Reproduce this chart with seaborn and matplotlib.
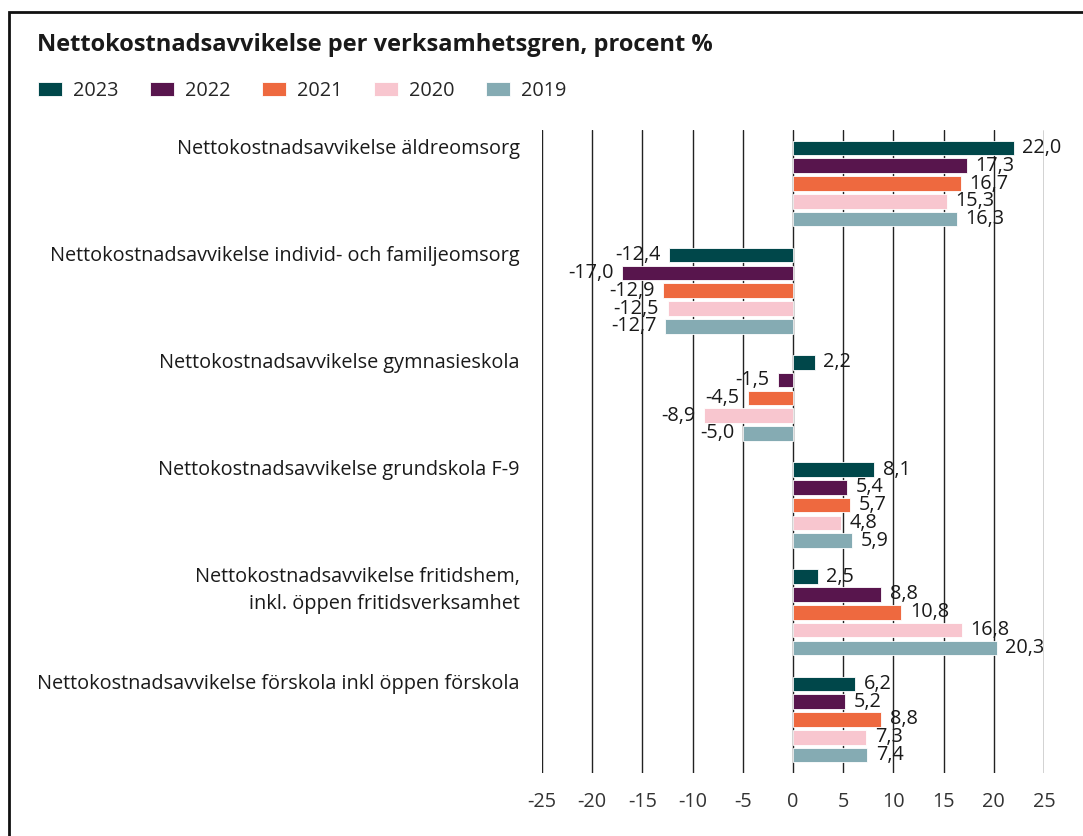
import matplotlib
matplotlib.use("Agg")
import matplotlib.pyplot as plt
import seaborn as sns
import pandas as pd
from matplotlib.patches import Rectangle

# Data
kategorier = [
    "Nettokostnadsavvikelse äldreomsorg",
    "Nettokostnadsavvikelse individ- och familjeomsorg",
    "Nettokostnadsavvikelse gymnasieskola",
    "Nettokostnadsavvikelse grundskola F-9",
    "Nettokostnadsavvikelse fritidshem,\ninkl. öppen fritidsverksamhet",
    "Nettokostnadsavvikelse förskola inkl öppen förskola",
]
ar = ["2023", "2022", "2021", "2020", "2019"]
v2023 = [22.0, -12.4, 2.2, 8.1, 2.5, 6.2]
v2022 = [17.3, -17.0, -1.5, 5.4, 8.8, 5.2]
v2021 = [16.7, -12.9, -4.5, 5.7, 10.8, 8.8]
v2020 = [15.3, -12.5, -8.9, 4.8, 16.8, 7.3]
v2019 = [16.3, -12.7, -5.0, 5.9, 20.3, 7.4]
farger = ["#00474A", "#58154D", "#EE693F", "#F8C6CF", "#85ABB3"]
xticks = [-25, -20, -15, -10, -5, 0, 5, 10, 15, 20, 25]

serier = [v2023, v2022, v2021, v2020, v2019]
rader = []
for a, vals in zip(ar, serier):
    for k, v in zip(kategorier, vals):
        rader.append({"kategori": k, "ar": a, "varde": v})
df = pd.DataFrame(rader)

sns.set_style("white")
plt.rcParams["font.family"] = ["Open Sans", "DejaVu Sans"]
FS = 14.3

fig = plt.figure(figsize=(10.83, 8.36), dpi=100)
ax = fig.add_axes([542 / 1083, 1 - 773 / 836, 502 / 1083, (773 - 130) / 836])

sns.barplot(data=df, y="kategori", x="varde", hue="ar", order=kategorier,
            hue_order=ar, palette=farger, orient="h", width=0.83, gap=0.18,
            edgecolor="white", linewidth=0.6, ax=ax, saturation=1)

ax.set_xlim(-25, 25)
ax.set_ylim(len(kategorier) - 0.5, -0.5)
ax.set_xticks(xticks)
ax.set_xticklabels([str(t) for t in xticks], fontsize=FS, color="#333333")
ax.tick_params(axis="x", length=0, pad=14)
ax.set_yticks([])
ax.set_xlabel("")
ax.set_ylabel("")
for s in ax.spines.values():
    s.set_visible(False)
ax.grid(axis="x", color="#222222", linewidth=1.0)
ax.set_axisbelow(True)

# värdeetiketter
for cont, vals in zip(ax.containers, serier):
    ax.bar_label(cont, labels=[f"{v:.1f}".replace(".", ",") for v in vals],
                 padding=6, fontsize=FS, color="#1a1a1a")

# kategorietiketter, överst i varje grupp
for i, k in enumerate(kategorier):
    ax.text(-0.044, i - 0.42, k, transform=ax.get_yaxis_transform(),
            ha="right", va="top", fontsize=FS, color="#1a1a1a",
            linespacing=1.45, multialignment="right")

sns.move_legend(ax, "upper left", bbox_to_anchor=(20 / 1083, 1 - 63 / 836),
                bbox_transform=fig.transFigure, ncol=5, frameon=False,
                title=None, fontsize=FS, handlelength=1.2, handleheight=0.75,
                handletextpad=0.55, columnspacing=1.6)

fig.text(37 / 1083, 1 - 45 / 836, "Nettokostnadsavvikelse per verksamhetsgren, procent %",
         fontsize=17, fontweight="bold", color="#1a1a1a", va="center", ha="left")

fig.patches.append(Rectangle((9 / 1083, -0.2), 1.5, 1.2 - 12 / 836,
                             transform=fig.transFigure, fill=False,
                             edgecolor="#111111", linewidth=2))

fig.savefig("out.png", dpi=100)
